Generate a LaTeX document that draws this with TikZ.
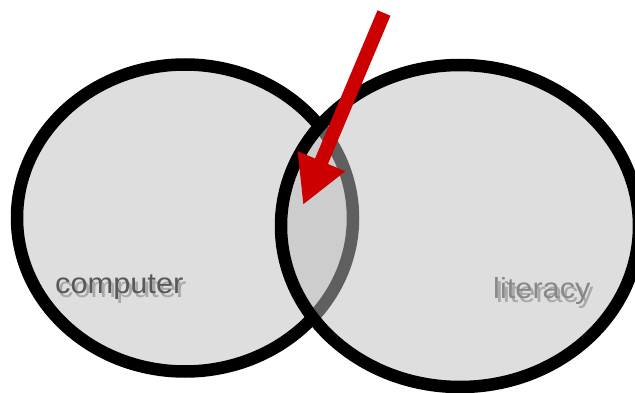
\documentclass[tikz,border=0pt]{standalone}
\usepackage{fontspec}
\setmainfont{Liberation Sans}
\usetikzlibrary{arrows.meta}
\definecolor{vfill}{RGB}{190,190,190}
\definecolor{arrowred}{RGB}{204,0,0}
\definecolor{txtdark}{RGB}{88,88,88}
\definecolor{txtmid}{RGB}{136,136,136}
\definecolor{txtshadow}{RGB}{168,168,168}
\tikzset{
  setcircle/.style={draw=black, line width=12.5pt, fill=vfill, fill opacity=0.5, draw opacity=1},
  pointer/.style={draw=arrowred, line width=14pt, -{Triangle[length=47.5pt,width=48pt,fill=arrowred]}},
  lbl/.style={inner sep=0pt, anchor=base west, font=\fontsize{29}{34}\selectfont, xscale=1.06}
}
\begin{document}
\begin{tikzpicture}[x=1pt,y=-1pt]
\useasboundingbox (0,0) rectangle (635,393);
\clip (0,0) rectangle (635,393);
\fill[white] (0,0) rectangle (635,393);
\coordinate (lc) at (185,218);
\coordinate (rc) at (460,226);
\draw[setcircle] (lc) ellipse [x radius=168, y radius=153.5];
\draw[setcircle] (rc) ellipse [x radius=179, y radius=161];
\node[lbl, text=txtshadow] (cshadow) at (58,297) {computer};
\node[lbl, text=txtdark] (comp) at (55,293) {computer};
\node[lbl, text=txtshadow] (lshadow) at (496,302) {literacy};
\node[lbl, text=txtmid] (lit) at (493,298) {literacy};
\coordinate (tail) at (384,13);
\coordinate (tip) at (303,205);
\draw[pointer] (tail) -- (tip);
\end{tikzpicture}
\end{document}
